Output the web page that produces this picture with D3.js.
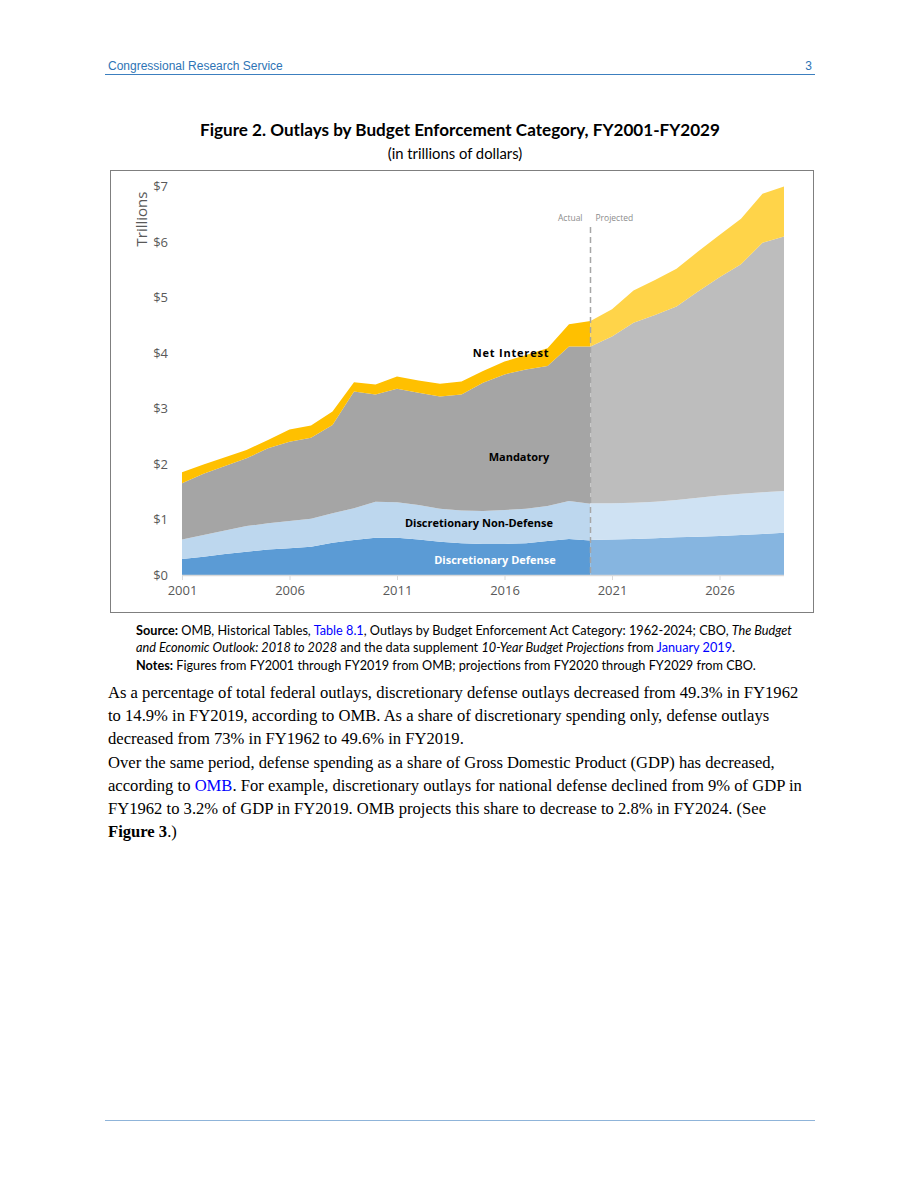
<!DOCTYPE html>
<html><head><meta charset="utf-8">
<script src="https://cdn.jsdelivr.net/npm/d3@7"></script>
<style>
html,body{margin:0;padding:0;background:#fff;}
svg{display:block;}
</style></head>
<body>
<script>
// ---- data (trillions of dollars) ----
const actualYears = [2001,2002,2003,2004,2005,2006,2007,2008,2009,2010,2011,2012,2013,2014,2015,2016,2017,2018,2019,2020];
const actualDefense    = [0.29,0.33,0.38,0.42,0.46,0.48,0.51,0.58,0.63,0.67,0.67,0.64,0.60,0.57,0.56,0.56,0.57,0.61,0.65,0.62];
const actualNonDefense = [0.35,0.39,0.42,0.46,0.47,0.49,0.50,0.53,0.57,0.65,0.64,0.62,0.59,0.59,0.59,0.61,0.62,0.63,0.68,0.66];
const actualMandatory  = [1.01,1.10,1.16,1.22,1.35,1.43,1.46,1.59,2.10,1.93,2.04,2.02,2.02,2.09,2.31,2.44,2.51,2.52,2.78,2.83];
const actualInterest   = [0.20,0.17,0.16,0.15,0.15,0.22,0.22,0.24,0.17,0.18,0.22,0.22,0.23,0.23,0.21,0.23,0.26,0.32,0.40,0.46];

const projYears = [2020,2021,2022,2023,2024,2025,2026,2027,2028,2029];
const projDefense    = [0.63,0.64,0.65,0.66,0.68,0.69,0.70,0.72,0.74,0.76];
const projNonDefense = [0.66,0.65,0.65,0.66,0.67,0.70,0.73,0.74,0.75,0.75];
const projMandatory  = [2.82,3.00,3.24,3.36,3.48,3.71,3.93,4.13,4.49,4.58];
const projInterest   = [0.46,0.49,0.58,0.63,0.68,0.72,0.76,0.82,0.88,0.90];

const seriesKeys = ["defense","nondefense","mandatory","interest"];
const yTicks = [0,1,2,3,4,5,6,7];
const xTicks = [2001,2006,2011,2016,2021,2026];

const actualColors = {defense:"#5b9bd5", nondefense:"#bdd7ee", mandatory:"#a5a5a5", interest:"#ffc000"};
const projColors   = {defense:"#86b5e0", nondefense:"#cfe2f3", mandatory:"#bdbdbd", interest:"#ffd449"};

const W = 920, H = 1191;
const svg = d3.select("body").append("svg").attr("width", W).attr("height", H);

// header
svg.append("text").attr("x",108).attr("y",70).attr("font-family","Liberation Sans, Arial, sans-serif")
  .attr("font-size",12).attr("fill","#2e74b5").text("Congressional Research Service");
svg.append("text").attr("x",812).attr("y",70).attr("text-anchor","end").attr("font-family","Liberation Sans, Arial, sans-serif")
  .attr("font-size",12).attr("fill","#2e74b5").text("3");
svg.append("line").attr("x1",105).attr("x2",815).attr("y1",74.5).attr("y2",74.5).attr("stroke","#3c7fbf").attr("stroke-width",1.2);

// title
svg.append("text").attr("x",460).attr("y",136).attr("text-anchor","middle").attr("font-family","Lato, sans-serif")
  .attr("font-weight","bold").attr("font-size",17.1).attr("fill","#000").text("Figure 2. Outlays by Budget Enforcement Category, FY2001-FY2029");
svg.append("text").attr("x",455).attr("y",159).attr("text-anchor","middle").attr("font-family","Lato, sans-serif")
  .attr("font-size",14.8).attr("fill","#000").text("(in trillions of dollars)");

// chart frame
svg.append("rect").attr("x",110.5).attr("y",170.5).attr("width",703).attr("height",442).attr("fill","#fff")
  .attr("stroke","#7f7f7f").attr("stroke-width",1);

const x = d3.scaleLinear().domain([2001,2029]).range([182,784]);
const y = d3.scaleLinear().domain([0,7]).range([575,186]);

function makeRows(years, d, n, m, i){
  return years.map((yr,k)=>({year:yr, defense:d[k], nondefense:n[k], mandatory:m[k], interest:i[k]}));
}
const stack = d3.stack().keys(seriesKeys);
const area = d3.area().x(d=>x(d.data.year)).y0(d=>y(d[0])).y1(d=>y(d[1]));

const actualStack = stack(makeRows(actualYears, actualDefense, actualNonDefense, actualMandatory, actualInterest));
const projStack = stack(makeRows(projYears, projDefense, projNonDefense, projMandatory, projInterest));

const g = svg.append("g");
g.selectAll("path.act").data(actualStack).join("path").attr("class","act")
  .attr("d",area).attr("fill",d=>actualColors[d.key]);
g.selectAll("path.proj").data(projStack).join("path").attr("class","proj")
  .attr("d",area).attr("fill",d=>projColors[d.key]);

// y axis labels
svg.append("g").selectAll("text").data(yTicks).join("text")
  .attr("x",168).attr("y",d=>y(d)+5).attr("text-anchor","end")
  .attr("font-family","Open Sans, sans-serif").attr("font-size",13).attr("fill","#595959")
  .text(d=>"$"+d);
svg.append("text").attr("transform","translate(147,219) rotate(-90)").attr("text-anchor","middle")
  .attr("font-family","Open Sans, sans-serif").attr("font-size",15).attr("fill","#595959").text("Trillions");

// x axis
const xAxis = d3.axisBottom(x).tickValues(xTicks).tickSize(5).tickFormat(d3.format("d"));
const xg = svg.append("g").attr("transform","translate(0,575)").call(xAxis);
xg.select(".domain").remove();
xg.selectAll(".tick line").attr("stroke","#d9d9d9");
xg.selectAll(".tick text").attr("font-family","Open Sans, sans-serif").attr("font-size",13).attr("fill","#595959").attr("dy","0.9em");
svg.append("line").attr("x1",x(2001)).attr("x2",x(2029)).attr("y1",575.5).attr("y2",575.5).attr("stroke","#d9d9d9").attr("stroke-width",1.5);

// divider
svg.append("line").attr("x1",x(2020)).attr("x2",x(2020)).attr("y1",227).attr("y2",575)
  .attr("stroke","#a6a6a6").attr("stroke-width",1.5).attr("stroke-dasharray","6,4");
svg.append("text").attr("x",x(2020)-8).attr("y",221).attr("text-anchor","end").attr("font-family","Open Sans, sans-serif")
  .attr("font-size",8.5).attr("fill","#8c8c8c").text("Actual");
svg.append("text").attr("x",x(2020)+5).attr("y",221).attr("font-family","Open Sans, sans-serif")
  .attr("font-size",8.5).attr("fill","#8c8c8c").text("Projected");

// series labels
const lab = [
  {t:"Net Interest", x:511, y:357, c:"#000", ls:0.8},
  {t:"Mandatory", x:519, y:461, c:"#000", ls:0},
  {t:"Discretionary Non-Defense", x:479, y:527, c:"#000", ls:0},
  {t:"Discretionary Defense", x:495, y:564, c:"#fff", ls:0}
];
svg.append("g").selectAll("text").data(lab).join("text")
  .attr("x",d=>d.x).attr("y",d=>d.y).attr("text-anchor","middle").attr("font-family","Open Sans, sans-serif")
  .attr("letter-spacing",d=>d.ls).attr("font-weight","bold").attr("font-size",11).attr("fill",d=>d.c).text(d=>d.t);

// source / notes
const sf = "Lato, sans-serif";
const sfs = 12.7;
const s1 = svg.append("text").attr("x",136).attr("y",635).attr("font-family",sf).attr("font-size",sfs).attr("fill","#000");
s1.append("tspan").attr("font-weight","bold").text("Source:");
s1.append("tspan").text(" OMB, Historical Tables, ");
s1.append("tspan").attr("fill","#0000ff").text("Table 8.1");
s1.append("tspan").text(", Outlays by Budget Enforcement Act Category: 1962-2024; CBO, ");
s1.append("tspan").attr("font-style","italic").text("The Budget");
const s2 = svg.append("text").attr("x",136).attr("y",652).attr("font-family",sf).attr("font-size",sfs).attr("fill","#000");
s2.append("tspan").attr("font-style","italic").text("and Economic Outlook: 2018 to 2028");
s2.append("tspan").text(" and the data supplement ");
s2.append("tspan").attr("font-style","italic").text("10-Year Budget Projections");
s2.append("tspan").text(" from ");
s2.append("tspan").attr("fill","#0000ff").text("January 2019");
s2.append("tspan").text(".");
const s3 = svg.append("text").attr("x",136).attr("y",670).attr("font-family",sf).attr("font-size",sfs).attr("fill","#000");
s3.append("tspan").attr("font-weight","bold").text("Notes:");
s3.append("tspan").text(" Figures from FY2001 through FY2019 from OMB; projections from FY2020 through FY2029 from CBO.");

// body text
const bf = "Liberation Serif, Times New Roman, serif";
const bfs = 16.6;
const body1 = ["As a percentage of total federal outlays, discretionary defense outlays decreased from 49.3% in FY1962",
  "to 14.9% in FY2019, according to OMB. As a share of discretionary spending only, defense outlays",
  "decreased from 73% in FY1962 to 49.6% in FY2019."];
body1.forEach((t,k)=>{
  svg.append("text").attr("x",108).attr("y",698+k*23).attr("font-family",bf).attr("font-size",bfs).attr("fill","#000").text(t);
});
const p2y = 768;
svg.append("text").attr("x",108).attr("y",p2y).attr("font-family",bf).attr("font-size",bfs).attr("fill","#000")
  .text("Over the same period, defense spending as a share of Gross Domestic Product (GDP) has decreased,");
const l2 = svg.append("text").attr("x",108).attr("y",p2y+23).attr("font-family",bf).attr("font-size",bfs).attr("fill","#000");
l2.append("tspan").text("according to ");
l2.append("tspan").attr("fill","#0000ff").text("OMB");
l2.append("tspan").text(". For example, discretionary outlays for national defense declined from 9% of GDP in");
svg.append("text").attr("x",108).attr("y",p2y+46).attr("font-family",bf).attr("font-size",bfs).attr("fill","#000")
  .text("FY1962 to 3.2% of GDP in FY2019. OMB projects this share to decrease to 2.8% in FY2024. (See");
const l4 = svg.append("text").attr("x",108).attr("y",p2y+69).attr("font-family",bf).attr("font-size",bfs).attr("fill","#000");
l4.append("tspan").attr("font-weight","bold").text("Figure 3");
l4.append("tspan").text(".)");

// footer line
svg.append("line").attr("x1",105).attr("x2",815).attr("y1",1120.5).attr("y2",1120.5).attr("stroke","#8fb4d9").attr("stroke-width",1.2);
</script>
</body></html>
